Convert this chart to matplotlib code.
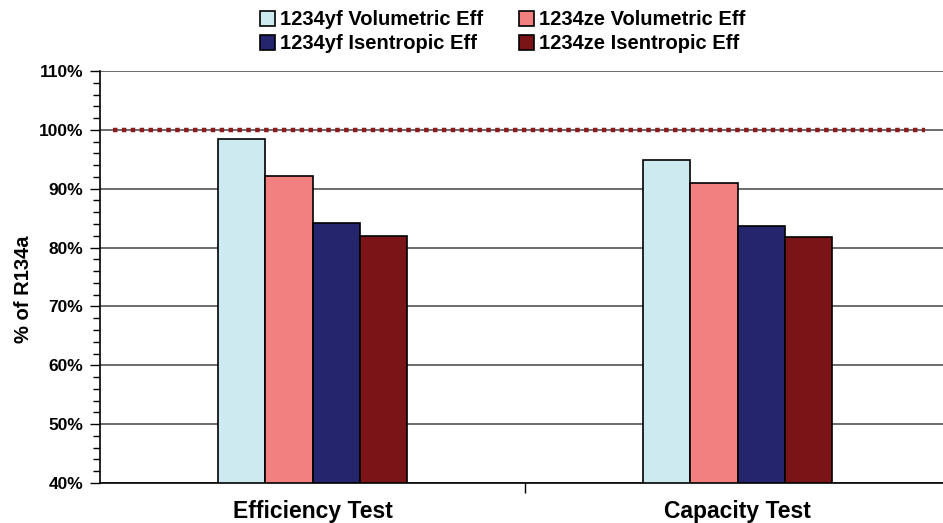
import numpy as np
import matplotlib.pyplot as plt
from matplotlib.ticker import MultipleLocator, FuncFormatter

plt.rcParams['font.family'] = ['Liberation Sans', 'DejaVu Sans']
plt.rcParams['font.weight'] = 'bold'

tests = ['Efficiency Test', 'Capacity Test']
series = ['1234yf Volumetric Eff', '1234ze Volumetric Eff',
          '1234yf Isentropic Eff', '1234ze Isentropic Eff']
yf_vol = [98.4, 94.8]
ze_vol = [92.1, 90.9]
yf_isen = [84.2, 83.7]
ze_isen = [82.0, 81.8]
colors = ['#CDEAF0', '#F38080', '#25256E', '#7B1416']
baseline = 100

fig = plt.figure(figsize=(9.43, 5.23), dpi=100)
ax = fig.add_axes([100 / 943, 1 - 483 / 523, 850 / 943, 412 / 523])

x = np.arange(len(tests))
w = 0.111
bars = []
for i, (vals, c, name) in enumerate(zip([yf_vol, ze_vol, yf_isen, ze_isen], colors, series)):
    b = ax.bar(x + (i - 1.5) * w, np.array(vals) - 40, bottom=40, width=w, color=c,
               edgecolor='black', linewidth=1.2, label=name, zorder=3)
    bars.append(b)

# reference line at 100%
ax.plot([-0.47, 1.44], [baseline, baseline], linestyle=(0, (1, 1)), color='#8B1A1A',
        linewidth=3.2, zorder=4)

ax.set_xlim(-0.5, 1.5)
ax.set_ylim(40, 110)
ax.yaxis.set_major_locator(MultipleLocator(10))
ax.yaxis.set_minor_locator(MultipleLocator(2))
ax.yaxis.set_major_formatter(FuncFormatter(lambda v, p: f'{v:.0f}%'))
ax.grid(axis='y', which='major', color='#444444', linewidth=1.1, zorder=0)
ax.tick_params(axis='y', which='major', length=7, width=1, labelsize=12.5, pad=5)
ax.tick_params(axis='y', which='minor', length=5, width=1)

ax.set_xticks([0.5], minor=True)
ax.set_xticks(x)
ax.set_xticklabels(tests, fontsize=16.5, fontweight='bold')
ax.tick_params(axis='x', which='major', length=0, pad=12)
ax.tick_params(axis='x', which='minor', length=7, width=1)

for s in ['top', 'right']:
    ax.spines[s].set_visible(False)
ax.spines['left'].set_linewidth(1.2)
ax.spines['bottom'].set_linewidth(1.2)

ax.set_ylabel('% of R134a', fontsize=14.5, fontweight='bold', labelpad=4)
ax.yaxis.label.set_y(0.47)

# legend filled row by row
order = [0, 2, 1, 3]
fig.legend([bars[i] for i in order], [series[i] for i in order],
           loc='upper center', bbox_to_anchor=(0.533, 1.015), ncol=2, frameon=False,
           fontsize=14.5, handlelength=0.75, handleheight=0.75, handletextpad=0.25,
           columnspacing=1.8, labelspacing=0.25)

fig.savefig('out.png', dpi=100)
